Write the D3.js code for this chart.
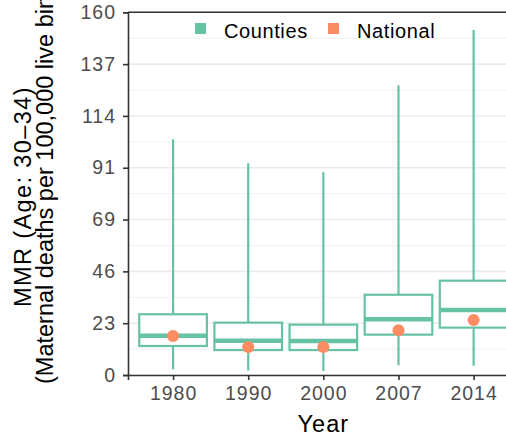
<!DOCTYPE html>
<html>
<head>
<meta charset="utf-8">
<script src="https://cdn.jsdelivr.net/npm/d3@7"></script>
<style>
  body { margin: 0; background: #fff; }
  svg { display: block; font-family: "Liberation Sans", Arial, sans-serif; }
</style>
</head>
<body>
<svg id="chart" width="506" height="436"></svg>
<script>
// county distribution per year (box stats) + national value
var years = ["1980", "1990", "2000", "2007", "2014"];
var whiskerLow  = [2.5, 1.9, 1.8, 4.3, 4.1];
var boxLow      = [12.8, 11.0, 11.0, 17.8, 20.9];
var medians     = [17.3, 15.1, 15.0, 24.6, 28.7];
var boxHigh     = [26.8, 23.1, 22.2, 35.4, 41.6];
var whiskerHigh = [104, 93.4, 89.5, 127.8, 152.2];
var national    = [17.2, 12.4, 12.4, 19.7, 24.3];
var yTicks = [0, 160/7, 320/7, 480/7, 640/7, 800/7, 960/7, 160];

var green = "#66C2A5", orange = "#FC8D62";

var pLeft = 128, pRight = 518.7, pTop = 12.3, pBottom = 375;

var svg = d3.select("#chart");

var x = d3.scalePoint()
    .domain(years)
    .range([pLeft, pRight])
    .padding(0.6);
var step = x.step();

var y = d3.scaleLinear()
    .domain([0, 160])
    .range([pBottom, pTop]);

// grid, minor then major
var minor = d3.range(yTicks.length - 1).map(function(i) { return (yTicks[i] + yTicks[i+1]) / 2; });
svg.append("g").selectAll("line")
    .data(minor)
    .join("line")
    .attr("x1", pLeft).attr("x2", pRight)
    .attr("y1", d => y(d)).attr("y2", d => y(d))
    .attr("stroke", "#F0F0F0").attr("stroke-width", 1);
svg.append("g").selectAll("line")
    .data(yTicks)
    .join("line")
    .attr("x1", pLeft).attr("x2", pRight)
    .attr("y1", d => y(d)).attr("y2", d => y(d))
    .attr("stroke", "#EBEBEB").attr("stroke-width", 1.6);

var idx = d3.range(years.length);
var bw = step * 0.9;

var boxes = svg.append("g").selectAll("g")
    .data(idx)
    .join("g")
    .attr("fill", "none")
    .attr("stroke", green);

boxes.append("line")
    .attr("x1", i => x(years[i])).attr("x2", i => x(years[i]))
    .attr("y1", i => y(boxHigh[i])).attr("y2", i => y(whiskerHigh[i]))
    .attr("stroke-width", 2.2);
boxes.append("line")
    .attr("x1", i => x(years[i])).attr("x2", i => x(years[i]))
    .attr("y1", i => y(boxLow[i])).attr("y2", i => y(whiskerLow[i]))
    .attr("stroke-width", 2.2);
boxes.append("rect")
    .attr("x", i => x(years[i]) - bw / 2)
    .attr("width", bw)
    .attr("y", i => y(boxHigh[i]))
    .attr("height", i => y(boxLow[i]) - y(boxHigh[i]))
    .attr("fill", "#fff")
    .attr("stroke-width", 2.2);
boxes.append("line")
    .attr("x1", i => x(years[i]) - bw / 2).attr("x2", i => x(years[i]) + bw / 2)
    .attr("y1", i => y(medians[i])).attr("y2", i => y(medians[i]))
    .attr("stroke-width", 4.4);

svg.append("g").selectAll("circle")
    .data(idx)
    .join("circle")
    .attr("cx", i => x(years[i]))
    .attr("cy", i => y(national[i]))
    .attr("r", 6)
    .attr("fill", orange);

// axes
var yAxis = svg.append("g")
    .attr("transform", "translate(" + pLeft + ",0)")
    .call(d3.axisLeft(y).tickValues(yTicks).tickFormat(d3.format(".0f")).tickSize(5).tickPadding(7));
var xAxis = svg.append("g")
    .attr("transform", "translate(0," + pBottom + ")")
    .call(d3.axisBottom(x).tickSize(5).tickPadding(6));
[yAxis, xAxis].forEach(function(g) {
  g.select(".domain").attr("stroke", "#333").attr("stroke-width", 1.6);
  g.selectAll(".tick line").attr("stroke", "#333").attr("stroke-width", 1.6);
  g.selectAll("text").attr("fill", "#4D4D4D").style("font-size", "19.5px")
    .style("letter-spacing", "1px").style("font-family", "Liberation Sans, Arial, sans-serif");
});
// line along the top of the panel
svg.append("line")
    .attr("x1", pLeft).attr("x2", pRight)
    .attr("y1", y(160)).attr("y2", y(160))
    .attr("stroke", "#333").attr("stroke-width", 1.6);

// titles
svg.append("text")
    .attr("x", (pLeft + pRight) / 2).attr("y", 432)
    .attr("text-anchor", "middle")
    .style("font-size", "23.5px").style("letter-spacing", "1px")
    .text("Year");
var yTitle = ["MMR (Age: 30\u201334)", "(Maternal deaths per 100,000 live births)"];
var titleX = [31, 53], titleStart = [307, 384], titleSpacing = ["1.4px", "0px"];
svg.append("g").selectAll("text")
    .data(yTitle)
    .join("text")
    .attr("transform", (d, i) => "translate(" + titleX[i] + "," + titleStart[i] + ") rotate(-90)")
    .style("font-size", "23.5px").style("letter-spacing", (d, i) => titleSpacing[i])
    .text(d => d);

// legend
var legendKeys = ["Counties", "National"], legendCols = [green, orange], legendX = [195, 328];
var lg = svg.append("g").selectAll("g")
    .data(legendKeys)
    .join("g")
    .attr("transform", (d, i) => "translate(" + legendX[i] + ",23)");
lg.append("rect").attr("width", 11).attr("height", 11).attr("fill", (d, i) => legendCols[i]);
lg.append("text").attr("x", 29).attr("y", 15)
    .style("font-size", "20px").style("letter-spacing", "0.6px")
    .text(d => d);
</script>
</body>
</html>
